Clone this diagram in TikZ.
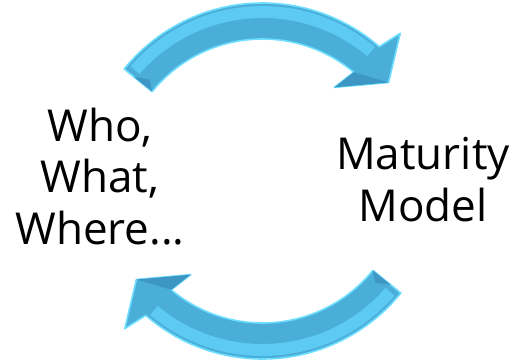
\documentclass[tikz,border=0pt]{standalone}
\usepackage{fontspec}
\setmainfont{Open Sans}
\usepackage{xcolor}
\usetikzlibrary{positioning}

\definecolor{arrowmid}{RGB}{74,174,216}
\definecolor{arrowlight}{RGB}{92,202,242}
\definecolor{arrowdark}{RGB}{62,150,196}
\definecolor{arrowglow}{RGB}{110,222,255}

\tikzset{
  arrowbody/.style={fill=arrowmid, draw=arrowglow, line width=1.2pt, line join=round},
  arrowband/.style={fill=arrowlight},
  arrowfacet/.style={fill=arrowdark},
  label/.style={inner sep=0pt, align=center, font=\fontsize{33}{39}\selectfont}
}

\begin{document}
\begin{tikzpicture}[x=0.75pt,y=0.75pt]

\useasboundingbox (0,0) rectangle (522,361);

\node[label, anchor=base] (who) at (100,116) {Who,\\What,\\Where...};
\node[label, anchor=base] (maturity) at (423,139) {Maturity\\Model};

\foreach \r in {0,180} {
  \begin{scope}[shift={(262.5,180)}, rotate=\r]
    \path[arrowbody] (141:178) arc[start angle=141, end angle=49, radius=178]
      -- (47:202) -- (38:160) -- (52.5:118) -- (50:142)
      arc[start angle=50, end angle=141, radius=142] -- cycle;
    \path[arrowband] (139:175) arc[start angle=139, end angle=50, radius=175]
      -- (50:163) arc[start angle=50, end angle=139, radius=163] -- cycle;
    \path[arrowfacet] (50:142) -- (38:160) -- (52.5:118) -- cycle;
    \path[arrowfacet] (141:142) -- (138:152) -- (141:165) -- cycle;
  \end{scope}
}

\end{tikzpicture}
\end{document}
